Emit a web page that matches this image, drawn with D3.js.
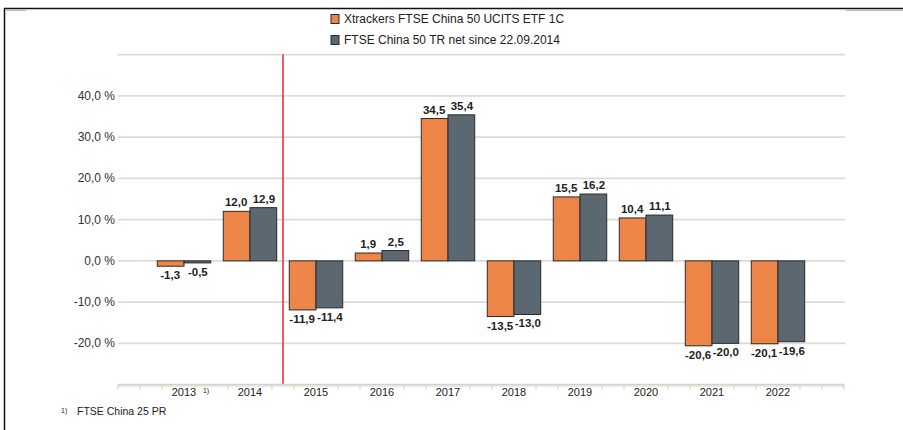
<!DOCTYPE html>
<html>
<head>
<meta charset="utf-8">
<script src="https://cdn.jsdelivr.net/npm/d3@7"></script>
<style>
  html, body { margin: 0; padding: 0; background: #fff; }
  svg { display: block; font-family: "Liberation Sans", Arial, sans-serif; }
</style>
</head>
<body>
<svg id="chart" width="903" height="430"></svg>
<script>
const categories = ["2013", "2014", "2015", "2016", "2017", "2018", "2019", "2020", "2021", "2022"];
const seriesNames = ["Xtrackers FTSE China 50 UCITS ETF 1C", "FTSE China 50 TR net since 22.09.2014"];
const etfValues = [-1.3, 12.0, -11.9, 1.9, 34.5, -13.5, 15.5, 10.4, -20.6, -20.1];
const indexValues = [-0.5, 12.9, -11.4, 2.5, 35.4, -13.0, 16.2, 11.1, -20.0, -19.6];
const yTicks = [50, 40, 30, 20, 10, 0, -10, -20, -30];
const yTickLabels = ["", "40,0 %", "30,0 %", "20,0 %", "10,0 %", "0,0 %", "-10,0 %", "-20,0 %", ""];
const footnote = "FTSE China 25 PR";
const footnoteMark = "1)";

const colors = ["#ee8548", "#5b6771"];
const svg = d3.select("#chart");

// frame
svg.append("line").attr("x1", 4).attr("x2", 903).attr("y1", 8.5).attr("y2", 8.5)
  .attr("stroke", "#111").attr("stroke-width", 1.5);
svg.append("line").attr("x1", 4.5).attr("x2", 4.5).attr("y1", 8).attr("y2", 430)
  .attr("stroke", "#111").attr("stroke-width", 1.5);
svg.append("line").attr("x1", 846).attr("x2", 903).attr("y1", 10.5).attr("y2", 10.5)
  .attr("stroke", "#bbb").attr("stroke-width", 1);
svg.append("line").attr("x1", 6).attr("x2", 26).attr("y1", 10.5).attr("y2", 10.5)
  .attr("stroke", "#bbb").attr("stroke-width", 1);

const x = d3.scaleLinear().domain([-1, 10]).range([118, 844]);
const step = x(1) - x(0);
const barW = step * 0.405;
const y = d3.scaleLinear().domain([-30, 50]).range([384.6, 54.6]);

// gridlines
svg.append("g").selectAll("line").data(yTicks.filter(t => t > -30)).join("line")
  .attr("x1", x(-1)).attr("x2", x(10) + 1)
  .attr("y1", d => y(d)).attr("y2", d => y(d))
  .attr("stroke", "#dedbd4").attr("stroke-width", 1.6);

// y labels
svg.append("g").selectAll("text").data(yTicks).join("text")
  .attr("x", 115).attr("y", d => y(d) + 4)
  .attr("text-anchor", "end").attr("font-size", 12).attr("fill", "#333")
  .text((d, i) => yTickLabels[i]);

// red separator line between 2014 and 2015
svg.append("line").attr("x1", x(1.5)).attr("x2", x(1.5))
  .attr("y1", y(50)).attr("y2", y(-30))
  .attr("stroke", "#e8262c").attr("stroke-width", 1.5);

const fmt = d => d.toFixed(1).replace(".", ",");

// bars
const series = [etfValues, indexValues];
series.forEach((vals, s) => {
  const g = svg.append("g");
  g.selectAll("rect").data(vals).join("rect")
    .attr("x", (d, i) => s === 0 ? x(i) - barW : x(i))
    .attr("width", barW)
    .attr("y", d => Math.min(y(d), y(0)))
    .attr("height", d => Math.abs(y(d) - y(0)))
    .attr("fill", colors[s])
    .attr("stroke", "#2b2b2b").attr("stroke-width", 1);
  g.selectAll("text").data(vals).join("text")
    .attr("x", (d, i) => (s === 0 ? x(i) - barW / 2 - 0.5 : x(i) + barW / 2 + 0.5))
    .attr("y", d => d >= 0 ? y(d) - 5 : y(d) + 13)
    .attr("text-anchor", "middle").attr("font-size", 11.5).attr("font-weight", "bold")
    .attr("fill", "#222")
    .text(d => fmt(d));
});

// x axis
const axisY = y(-30);
svg.append("line").attr("x1", x(-1)).attr("x2", x(10)).attr("y1", axisY + 1).attr("y2", axisY + 1)
  .attr("stroke", "#ece9e3").attr("stroke-width", 3);
svg.append("line").attr("x1", x(-1)).attr("x2", x(10)).attr("y1", axisY).attr("y2", axisY)
  .attr("stroke", "#d6d2ca").attr("stroke-width", 1.5);
const tickPos = d3.range(-3, 31).map(k => k / 3)
  .filter(v => !(Math.abs(v - Math.round(v)) < 1e-6 && v >= 0 && v <= 9))
  .filter(v => Math.abs(v - 1 / 3) > 1e-6);
svg.append("g").selectAll("line").data(tickPos).join("line")
  .attr("x1", d => x(d)).attr("x2", d => x(d))
  .attr("y1", axisY).attr("y2", axisY + 5)
  .attr("stroke", "#d6d2ca").attr("stroke-width", 1.2);
svg.append("g").selectAll("text").data(categories).join("text")
  .attr("x", (d, i) => x(i)).attr("y", axisY + 11)
  .attr("text-anchor", "middle").attr("font-size", 11).attr("fill", "#222")
  .text(d => d);
svg.append("text").attr("x", x(1 / 3)).attr("y", axisY + 8)
  .attr("text-anchor", "middle").attr("font-size", 7).attr("fill", "#222")
  .text(footnoteMark);

// legend
seriesNames.forEach((name, i) => {
  const ly = 19 + i * 21;
  svg.append("rect").attr("x", 331).attr("y", ly - 4.5).attr("width", 8).attr("height", 9)
    .attr("fill", colors[i]).attr("stroke", "#2b2b2b").attr("stroke-width", 1);
  svg.append("text").attr("x", 344).attr("y", ly + 4)
    .attr("font-size", 12).attr("fill", "#222").text(name);
});

// footnote
svg.append("text").attr("x", 61).attr("y", 413).attr("font-size", 7).attr("fill", "#222").text(footnoteMark);
svg.append("text").attr("x", 77).attr("y", 415).attr("font-size", 10.5).attr("fill", "#222").text(footnote);
</script>
</body>
</html>
